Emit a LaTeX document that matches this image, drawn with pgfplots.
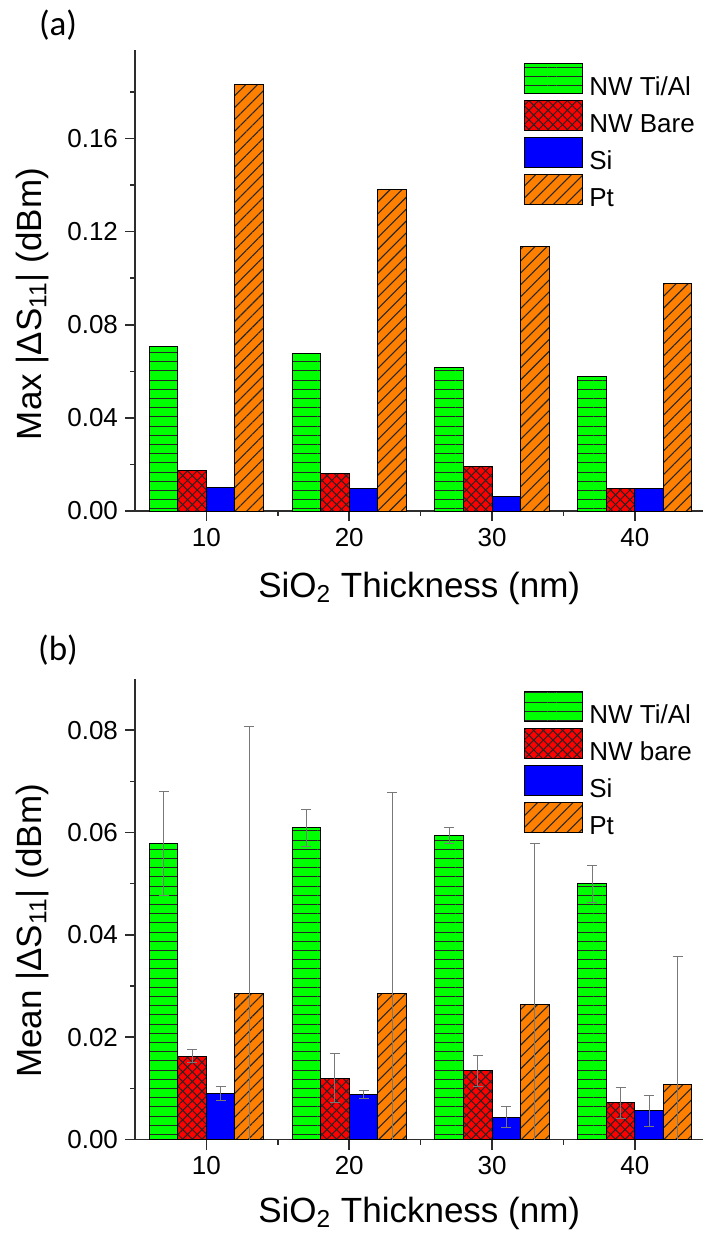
\documentclass[border=0pt]{standalone}
\usepackage{fontspec}
\setmainfont{Liberation Sans}
\newfontfamily\calibri{Carlito}
\usepackage{pgfplots}
\usepackage{pgfplotstable}
\pgfplotsset{compat=1.18}
\usetikzlibrary{patterns.meta}

\definecolor{cgreen}{RGB}{0,255,0}
\definecolor{cred}{RGB}{255,0,0}
\definecolor{cblue}{RGB}{0,0,255}
\definecolor{corange}{RGB}{255,128,0}
\definecolor{axgray}{RGB}{45,45,45}
\definecolor{errgray}{RGB}{120,120,120}

% panel (a): max values (x = bar centre position)
\pgfplotstableread{
x y
7 0.0707
17 0.0678
27 0.0615
37 0.0578
}\agreen
\pgfplotstableread{
x y
9 0.0176
19 0.0163
29 0.0192
39 0.0098
}\ared
\pgfplotstableread{
x y
11 0.0102
21 0.0095
31 0.0061
41 0.0095
}\ablue
\pgfplotstableread{
x y
13 0.1830
23 0.1380
33 0.1134
43 0.0976
}\aorange

% panel (b): mean values with error
\pgfplotstableread{
x y e
7 0.0578 0.0102
17 0.0609 0.0036
27 0.0594 0.0015
37 0.0500 0.0036
}\bgreen
\pgfplotstableread{
x y e
9 0.0163 0.0013
19 0.0120 0.0048
29 0.0134 0.0031
39 0.0072 0.0030
}\bred
\pgfplotstableread{
x y e
11 0.0090 0.0014
21 0.0088 0.0008
31 0.0044 0.0020
41 0.0056 0.0030
}\bblue
\pgfplotstableread{
x y e
13 0.0285 0.0523
23 0.0285 0.0393
33 0.0264 0.0314
43 0.0107 0.0250
}\borange

\pgfplotsset{
  swatch/.style={legend image code/.code={\draw[##1] (0pt,-2.8pt) rectangle (29pt,12.2pt);}},
  sgreen/.style={fill=cgreen, draw=black, line width=0.5pt,
     postaction={pattern={Lines[angle=0,distance=4.6pt,line width=0.5pt]}, pattern color=black!85}},
  sred/.style={fill=cred, draw=black, line width=0.5pt,
     postaction={pattern={Lines[angle=45,distance=3.4pt,line width=0.5pt]}, pattern color=black!85},
     postaction={pattern={Lines[angle=-45,distance=3.4pt,line width=0.5pt]}, pattern color=black!85}},
  sblue/.style={fill=cblue, draw=black, line width=0.5pt},
  sorange/.style={fill=corange, draw=black, line width=0.5pt,
     postaction={pattern={Lines[angle=45,distance=4.2pt,line width=0.55pt]}, pattern color=black!85}},
  myaxis/.style={
    scale only axis, width=284.2pt,
    xmin=5, xmax=44.8, ymin=0,
    axis x line*=bottom, axis y line*=left,
    axis line style={axgray, line width=0.8pt},
    tick style={axgray, line width=0.8pt},
    major tick length=5pt, minor tick length=2.5pt,
    tick align=outside,
    xtick={10,20,30,40}, minor xtick={15,25,35},
    scaled y ticks=false,
    /pgf/number format/assume math mode=true,
    ticklabel style={font=\fontsize{13}{15}\selectfont},
    y tick label style={/pgf/number format/.cd, fixed, fixed zerofill, precision=2},
    ybar, bar width=2, bar shift=0,
    xlabel={SiO\textsubscript{2} Thickness (nm)},
    legend cell align=left,
    legend style={draw=none, fill=none, inner sep=0pt, outer sep=0pt,
       font=\fontsize{13}{15}\selectfont, row sep=0pt, column sep=2.5pt,
       nodes={inner sep=0.75pt}, anchor=north west},
    error bars/error bar style={errgray, line width=0.5pt},
    error bars/error mark options={rotate=90, mark size=2.5pt, errgray, line width=0.5pt},
  },
}

\begin{document}
\begin{tikzpicture}
\useasboundingbox (0pt,0pt) rectangle (351.5pt,-622.5pt);

\node[font=\calibri\fontsize{17.5}{20}\selectfont] at (29pt,-12.5pt) {(a)};
\node[font=\calibri\fontsize{17.5}{20}\selectfont] at (29pt,-325pt) {(b)};

\begin{axis}[myaxis,
  at={(67.5pt,-255.5pt)}, anchor=south west,
  height=230.5pt, ymax=0.198,
  ytick={0,0.04,0.08,0.12,0.16}, minor ytick={0.02,0.06,0.10,0.14,0.18},
  ylabel={Max |ΔS\textsubscript{11}| (dBm)},
  every axis y label/.style={at={(axis description cs:-0.181,0.449)}, rotate=90, anchor=center, font=\fontsize{17.5}{20}\selectfont},
  every axis x label/.style={at={(axis description cs:0.5,-0.176)}, anchor=mid, font=\fontsize{17.5}{20}\selectfont},
  legend style={at={(axis description cs:0.684,0.972)}},
]
\addplot[sgreen, swatch] table[x=x,y=y] {\agreen};
\addplot[sred, swatch] table[x=x,y=y] {\ared};
\addplot[sblue, swatch] table[x=x,y=y] {\ablue};
\addplot[sorange, swatch] table[x=x,y=y] {\aorange};
\legend{NW Ti/Al, NW Bare, Si, Pt}
\end{axis}

\begin{axis}[myaxis,
  at={(67.5pt,-569.75pt)}, anchor=south west,
  height=230.25pt, ymax=0.09,
  ytick={0,0.02,0.04,0.06,0.08}, minor ytick={0.01,0.03,0.05,0.07},
  ylabel={Mean |ΔS\textsubscript{11}| (dBm)},
  every axis y label/.style={at={(axis description cs:-0.181,0.453)}, rotate=90, anchor=center, font=\fontsize{17.5}{20}\selectfont},
  every axis x label/.style={at={(axis description cs:0.5,-0.168)}, anchor=mid, font=\fontsize{17.5}{20}\selectfont},
  legend style={at={(axis description cs:0.684,0.975)}},
]
\addplot[sgreen, swatch, error bars/.cd, y dir=both, y explicit] table[x=x,y=y,y error=e] {\bgreen};
\addplot[sred, swatch, error bars/.cd, y dir=both, y explicit] table[x=x,y=y,y error=e] {\bred};
\addplot[sblue, swatch, error bars/.cd, y dir=both, y explicit] table[x=x,y=y,y error=e] {\bblue};
\addplot[sorange, swatch, error bars/.cd, y dir=both, y explicit] table[x=x,y=y,y error=e] {\borange};
\legend{NW Ti/Al, NW bare, Si, Pt}
\end{axis}
\end{tikzpicture}
\end{document}
